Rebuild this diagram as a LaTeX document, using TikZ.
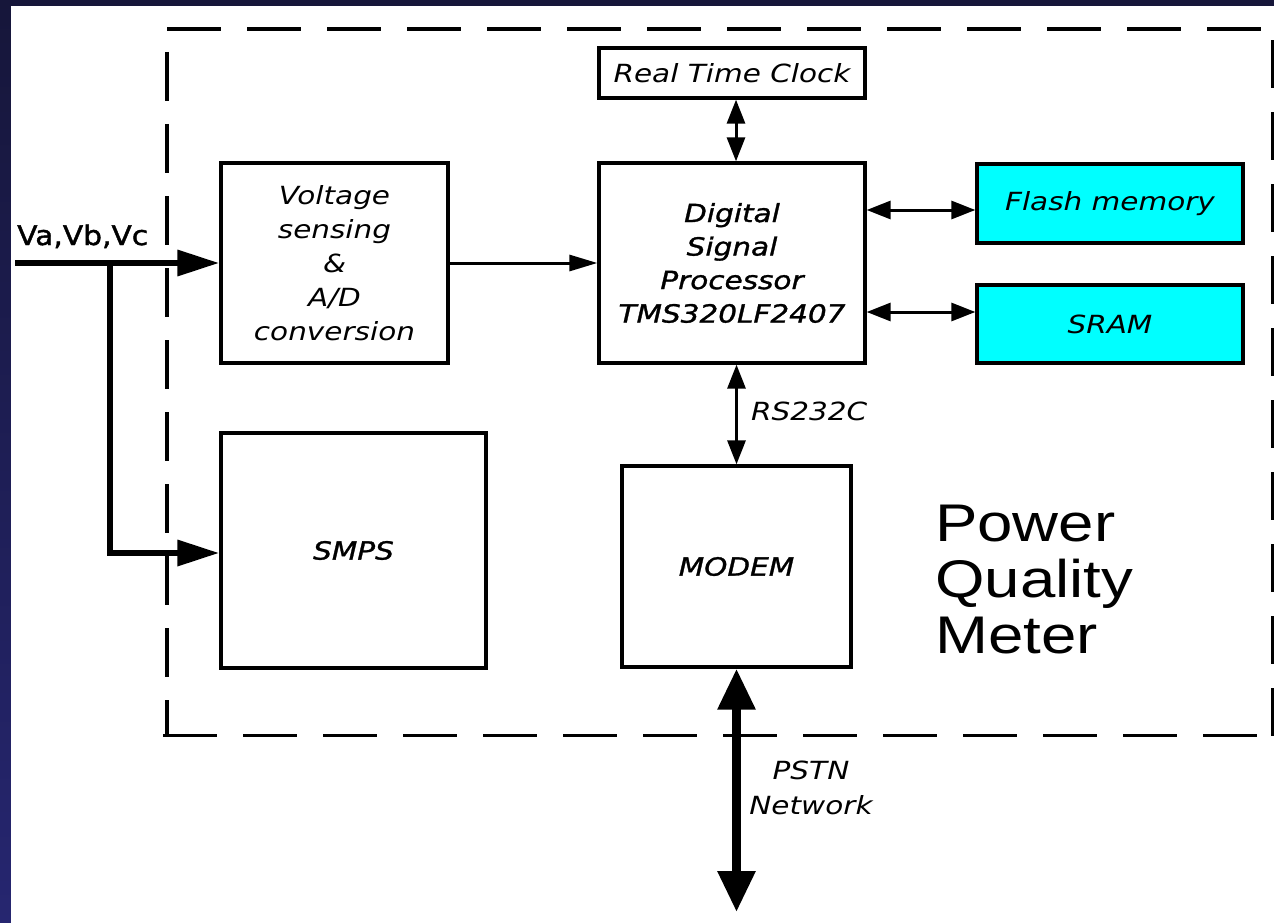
\documentclass[tikz,border=0pt]{standalone}
\usepackage{fontspec}
\usetikzlibrary{arrows.meta,calc}
\newfontfamily\diagfont[FakeStretch=1.18]{DejaVu Sans}
\newfontfamily\diagbold[FakeStretch=1.18,FakeBold=1.2]{DejaVu Sans}
\newfontfamily\vfont[FakeStretch=1.1,FakeBold=1.5]{DejaVu Sans}
\newfontfamily\pqfont[FakeStretch=1.2]{Liberation Sans}
\definecolor{navyA}{RGB}{22,22,58}
\definecolor{navyB}{RGB}{38,38,112}
\definecolor{memcyan}{RGB}{0,255,255}
\begin{document}
\begin{tikzpicture}[x=1pt,y=-1pt,
  blk/.style={draw=black, line width=3.3pt, fill=white, inner sep=0pt, align=center,
    font=\diagfont\itshape\fontsize{25}{34}\selectfont},
  boldblk/.style={blk, font=\diagbold\itshape\fontsize{25}{33.5}\selectfont},
  memblk/.style={blk, fill=memcyan},
  lbl/.style={inner sep=0pt, align=center, font=\diagfont\itshape\fontsize{25}{35}\selectfont},
  frame/.style={draw=black, line width=3.5pt},
  thinarr/.style={line width=3pt, -{Triangle[length=28pt,width=16pt]}},
  biarr/.style={line width=3pt, {Triangle[length=24pt,width=18pt]}-{Triangle[length=24pt,width=18pt]}},
  busarr/.style={line width=6.5pt, -{Triangle[length=42pt,width=25pt]}},
  pstnarr/.style={line width=9pt, {Triangle[length=41pt,width=36pt]}-{Triangle[length=41pt,width=36pt]}}
]
\useasboundingbox (0,0) rectangle (1274,923);
% slide background
\shade[top color=navyA, bottom color=navyB] (0,0) rectangle (1274,923);
\fill[white] (11,6) rectangle (1274,923);

% dashed enclosure
\draw[frame, dash pattern=on 54pt off 26pt] (167,29) -- (1274,29);
\draw[frame, dash pattern=on 54pt off 26pt] (163,735.5) -- (1274,735.5);
\draw[frame, dash pattern=on 49pt off 23pt, dash phase=49pt] (167,29) -- (167,735.5);
\draw[frame, dash pattern=on 48pt off 24pt, dash phase=61pt] (1273,29) -- (1273,735.5);

% blocks
\node[blk, minimum width=227pt, minimum height=200pt] (volt) at (334.5,263)
  {Voltage\\sensing\\\&\\A/D\\conversion};
\node[boldblk, minimum width=265pt, minimum height=235pt] (smps) at (353.5,550.5) {SMPS};
\node[boldblk, minimum width=266pt, minimum height=200pt] (dsp) at (732,263)
  {Digital\\Signal\\Processor\\TMS320LF2407};
\node[blk, minimum width=266pt, minimum height=50pt] (rtc) at (732,73) {Real Time Clock};
\node[memblk, minimum width=266pt, minimum height=79pt] (flash) at (1110,203.5) {Flash memory};
\node[memblk, minimum width=266pt, minimum height=78pt] (sram) at (1110,324) {SRAM};
\node[boldblk, minimum width=229pt, minimum height=201pt] (modem) at (736.5,566.5) {MODEM};

% labels
\node[inner sep=0pt, anchor=base west, font=\vfont\fontsize{27}{30}\selectfont] (vin) at (17,245) {Va,Vb,Vc};
\node[lbl, anchor=base west] (rs) at (751,420) {RS232C};
\node[lbl, anchor=north] (pstn) at (811,761) {PSTN\\Network};
\node[inner sep=0pt, anchor=north west, align=left, font=\pqfont\fontsize{53}{56}\selectfont] (pqm) at (935,505)
  {Power\\Quality\\Meter};

% connectors
\coordinate (in) at (15,263);
\coordinate (br) at (110,263);
\coordinate (net) at (736.5,912);
\draw[busarr] (in) -- (volt.west);
\draw[busarr] (br) |- ($(smps.west)+(0,2.5)$);
\draw[thinarr] (volt.east) -- (dsp.west);
\draw[biarr] ($(rtc.south)+(4,0)$) -- ($(dsp.north)+(4,0)$);
\draw[biarr] ($(dsp.east |- flash.west)+(0,6.5)$) -- ($(flash.west)+(0,6.5)$);
\draw[biarr] ($(dsp.east |- sram.west)+(0,-12)$) -- ($(sram.west)+(0,-12)$);
\draw[biarr] (modem.north |- dsp.south) -- (modem.north);
\draw[pstnarr] (modem.south) -- (net);
\end{tikzpicture}
\end{document}
